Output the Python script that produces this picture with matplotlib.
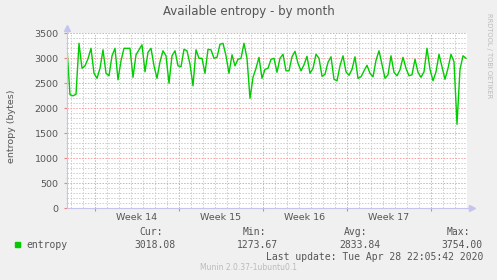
import datetime as dt
import numpy as np
import matplotlib
matplotlib.use("Agg")
import matplotlib.pyplot as plt
import matplotlib.dates as mdates

# Data: available entropy (bytes), one sample every 6 hours
start = dt.datetime(2020, 3, 27, 16, 0)
step_hours = 6
entropy = [
    3200, 2270, 2250, 2280, 3300, 2800, 2850, 2990, 3200, 2700, 2600, 2800,
    3170, 2700, 2650, 3050, 3200, 2570, 2950, 3200, 3200, 3200, 2620, 3070,
    3170, 3270, 2730,
    3120, 3200, 2850, 2600, 2930, 3150, 3050, 2500, 3050, 3150, 2850, 2830,
    3180, 3150, 2880, 2450, 3170, 3000, 3000, 2700, 3180, 3170, 3000, 3020,
    3280, 3300, 3050, 2700,
    3070, 2850, 2980, 3000, 3300, 3000, 2200, 2620, 2800, 3020, 2600, 2780,
    2800, 2980, 3000, 2720, 3000, 3080, 2750, 2750, 3030, 3140, 2900, 2750,
    2870, 3040, 2700, 2800,
    3080, 3000, 2640, 2680, 2920, 3030, 2580, 2550, 2850, 3050, 2730, 2660,
    2780, 3030, 2600, 2630, 2750, 2860, 2700, 2630, 2960, 3150, 2880, 2600,
    2670, 3050, 2720,
    2650, 2770, 3020, 2800, 2650, 2670, 2980, 2720, 2620, 2730, 3200, 2780,
    2550, 2730, 3080, 2830, 2580, 2800, 3080, 2930, 1680, 2780, 3050, 3000,
]
week_starts = [dt.datetime(2020, 3, 30), dt.datetime(2020, 4, 6),
               dt.datetime(2020, 4, 13), dt.datetime(2020, 4, 20),
               dt.datetime(2020, 4, 27)]
stat_names = ["Cur:", "Min:", "Avg:", "Max:"]
stat_values = ["3018.08", "1273.67", "2833.84", "3754.00"]
last_update = "Last update: Tue Apr 28 22:05:42 2020"

times = [start + dt.timedelta(hours=step_hours * i) for i in range(len(entropy))]
t_end = start + dt.timedelta(hours=800)

bg = "#F0F0F0"
txt = "#555555"
axcol = "#C4C4EE"
green = "#00CC00"

fig = plt.figure(figsize=(4.97, 2.80), dpi=100, facecolor=bg)
ax = fig.add_axes([67 / 497, 1 - 208.3 / 280, 400 / 497, 175 / 280])
ax.set_facecolor("white")

ax.plot(times, entropy, color=green, lw=1.0)
ax.set_xlim(start, t_end)
ax.set_ylim(0, 3500)

# grid
ax.xaxis.set_major_locator(mdates.WeekdayLocator(byweekday=mdates.MO))
ax.xaxis.set_minor_locator(mdates.DayLocator())
ax.set_yticks(np.arange(0, 3501, 500))
ax.set_yticks(np.arange(0, 3501, 100), minor=True)
ax.grid(which="minor", color="#CCCCCC", lw=0.7, ls=(0, (1.5, 1.5)))
ax.grid(which="major", color="#F4A0A0", lw=0.7, ls=(0, (1.5, 1.5)))
ax.set_axisbelow(True)
ax.set_xticklabels([])
ax.tick_params(axis="x", which="major", length=2, color="#F08080")
ax.tick_params(axis="x", which="minor", length=0)
ax.tick_params(axis="y", which="major", length=2, color="#F08080", pad=4,
               labelsize=6.8, labelcolor=txt)
ax.tick_params(axis="y", which="minor", length=1, color="#D0D0D0")

for s in ["top", "right"]:
    ax.spines[s].set_visible(False)
for s in ["left", "bottom"]:
    ax.spines[s].set_color(axcol)
    ax.spines[s].set_linewidth(0.8)
ax.plot([0, 0], [1, 1.03], color=axcol, lw=0.8, transform=ax.transAxes, clip_on=False)
ax.plot(0, 1.03, marker="^", ms=4, color=axcol, transform=ax.transAxes, clip_on=False)
ax.plot([1, 1.012], [0, 0], color=axcol, lw=0.8, transform=ax.transAxes, clip_on=False)
ax.plot(1.012, 0, marker=">", ms=4, color=axcol, transform=ax.transAxes, clip_on=False)

# week labels centred in each week
for w in week_starts[:-1]:
    mid = w + dt.timedelta(days=3.5)
    ax.text(mid, -0.025, "Week " + w.strftime("%V"), transform=ax.get_xaxis_transform(),
            ha="center", va="top", fontsize=6.8, color=txt)

ax.set_ylabel("entropy (bytes)", fontsize=6.8, color=txt)
ax.yaxis.set_label_coords(-0.128, 0.47)

fig.text(0.5, 1 - 12 / 280, "Available entropy - by month", ha="center", va="center",
         fontsize=8.5, color=txt)
fig.text(489 / 497, 1 - 56 / 280, "RRDTOOL / TOBI OETIKER", rotation=270,
         ha="center", va="center", fontsize=4.8, color="#BBBBBB")

# legend / stats
mono = "DejaVu Sans Mono"
fig.patches.append(plt.Rectangle((15 / 497, 1 - 247 / 280), 5 / 497, 5 / 280,
                                 transform=fig.transFigure, color=green))
fig.text(26 / 497, 1 - 245 / 280, "entropy", family=mono, fontsize=7, color=txt,
         va="center", ha="left")
name_x = [139, 243, 344, 447]
val_x = [134, 237, 339, 441]
for nm, vl, nx, vx in zip(stat_names, stat_values, name_x, val_x):
    fig.text(nx / 497, 1 - 232 / 280, nm, family=mono, fontsize=7, color=txt,
             va="center", ha="left")
    fig.text(vx / 497, 1 - 245 / 280, vl, family=mono, fontsize=7, color=txt,
             va="center", ha="left")
fig.text(483 / 497, 1 - 257 / 280, last_update, family=mono, fontsize=7, color=txt,
         va="center", ha="right")
fig.text(248 / 497, 1 - 268 / 280, "Munin 2.0.37-1ubuntu0.1", fontsize=5.5,
         color="#BBBBBB", va="center", ha="center")

fig.savefig("out.png", dpi=100, facecolor=bg)
